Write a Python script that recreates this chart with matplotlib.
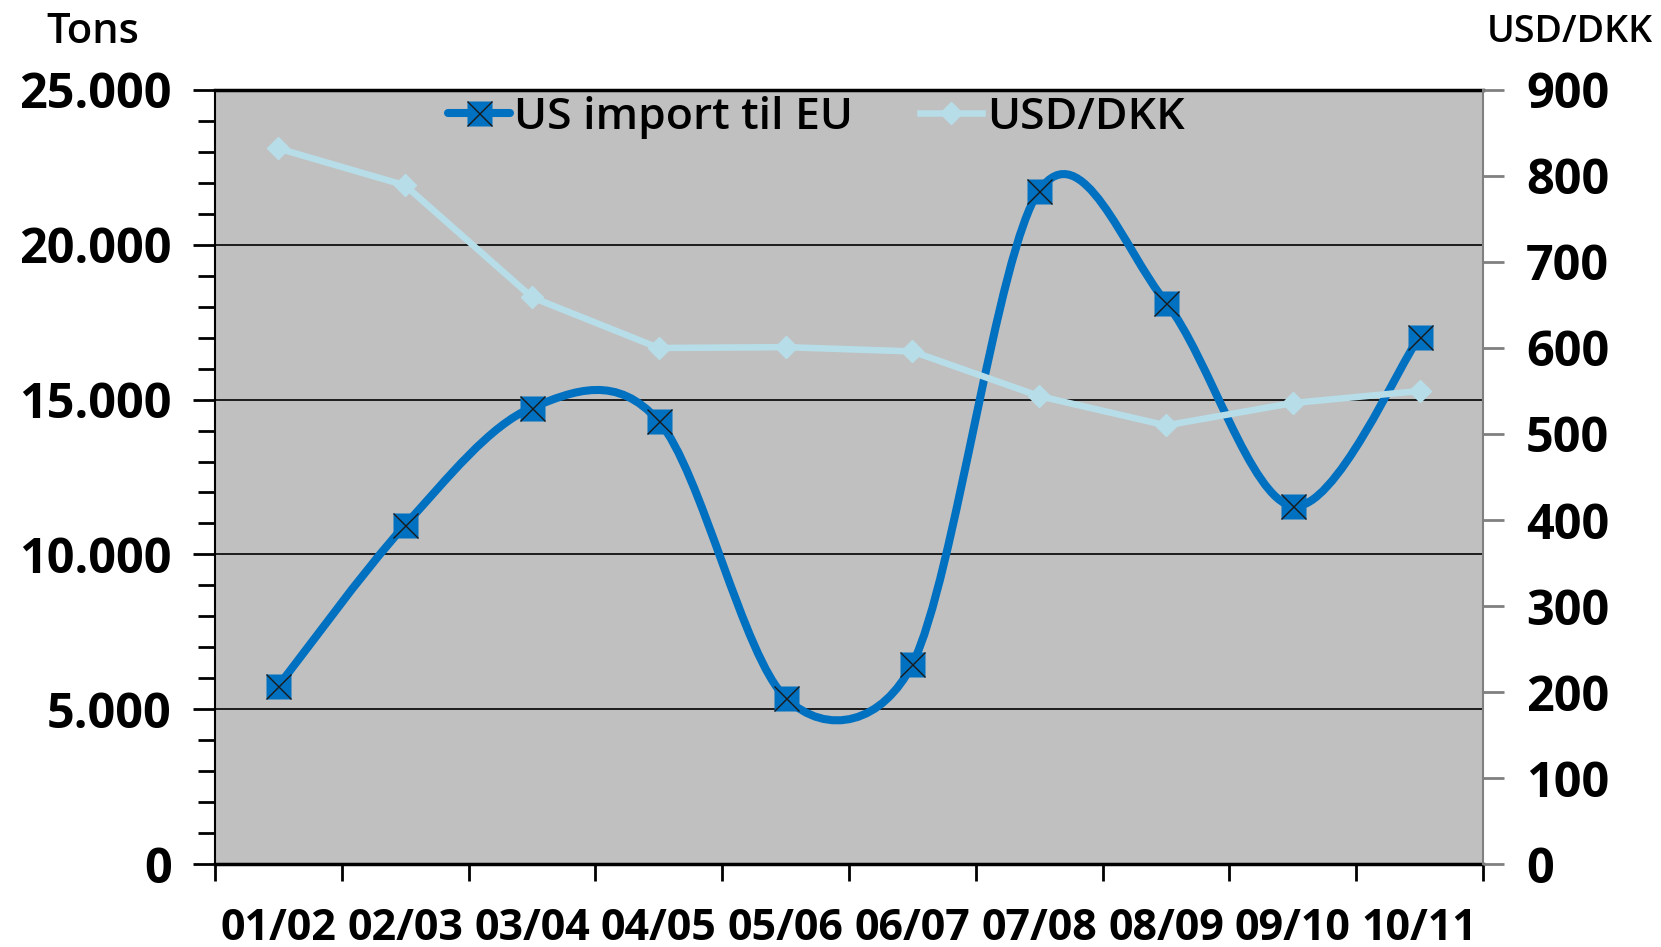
import matplotlib
matplotlib.use("Agg")
import numpy as np
import matplotlib.pyplot as plt
from matplotlib.path import Path
from matplotlib.patches import PathPatch
from matplotlib.lines import Line2D
from matplotlib.legend_handler import HandlerTuple
from matplotlib.ticker import FuncFormatter, MultipleLocator

plt.rcParams['font.family'] = ['Open Sans', 'DejaVu Sans']

seasons = ['01/02', '02/03', '03/04', '04/05', '05/06',
           '06/07', '07/08', '08/09', '09/10', '10/11']
us_import = [5750, 10950, 14740, 14300, 5370, 6460, 21750, 18130, 11560, 17030]
usd_dkk = [832, 789, 659, 600, 601, 596, 544, 510, 536, 550]

blue = '#0070C0'
cyan = '#B7DEE8'


def smooth_path(ax, xs, ys):
    # Excel style smoothed line: bezier with 1/6 tangents,
    # control arm limited to half the segment length (in screen space)
    pts = np.column_stack([xs, ys]).astype(float)
    scr = ax.transData.transform(pts)
    n = len(pts)
    verts = [tuple(pts[0])]
    codes = [Path.MOVETO]
    for i in range(n - 1):
        i0, i3 = max(i - 1, 0), min(i + 2, n - 1)
        seg = np.linalg.norm(scr[i + 1] - scr[i])
        arms = []
        for a, b in [(i0, i + 1), (i, i3)]:
            span = np.linalg.norm(scr[b] - scr[a])
            f = 1 / 6
            if span > 0 and span * f > seg / 2:
                f = seg / 2 / span
            arms.append((pts[b] - pts[a]) * f)
        verts += [tuple(pts[i] + arms[0]), tuple(pts[i + 1] - arms[1]), tuple(pts[i + 1])]
        codes += [Path.CURVE4] * 3
    return Path(verts, codes)


fig = plt.figure(figsize=(16.61, 9.47), dpi=100)
ax = fig.add_axes([0.1294, 0.0876, 0.7635, 0.8174])
ax.set_facecolor('#C0C0C0')

x = list(range(len(seasons)))

ax.set_xlim(-0.5, len(seasons) - 0.5)
ax.set_ylim(0, 25000)

ax.add_patch(PathPatch(smooth_path(ax, x, us_import), facecolor='none',
                       edgecolor=blue, lw=5.8, capstyle='round', zorder=3))
ax.plot(x, us_import, ls='none', marker='s', ms=18, mfc=blue, mec='none', zorder=4)
ax.plot(x, us_import, ls='none', marker='x', ms=18, mec='#1a1a1a', mew=1, zorder=5)

ax.yaxis.set_major_locator(MultipleLocator(5000))
ax.yaxis.set_minor_locator(MultipleLocator(1000))
ax.yaxis.set_major_formatter(FuncFormatter(lambda v, p: f'{int(v):,}'.replace(',', '.')))
ax.grid(axis='y', which='major', color='black', lw=1.2, zorder=1)
ax.set_axisbelow(True)

ax.set_xticks([i - 0.5 for i in range(len(seasons) + 1)])
ax.set_xticklabels([])
ax.set_xticks(x, minor=True)
ax.set_xticklabels(seasons, minor=True, fontsize=31, fontweight='bold')
ax.tick_params(axis='x', which='major', direction='out', length=12, width=2, color='black')
ax.tick_params(axis='x', which='minor', length=0, pad=31)
ax.tick_params(axis='y', which='major', direction='out', length=16, width=2, pad=15,
               labelsize=35)
ax.tick_params(axis='y', which='minor', direction='out', length=12, width=2)
for lbl in ax.get_yticklabels():
    lbl.set_fontweight('bold')

ax.spines['left'].set_linewidth(1.5)
ax.spines['bottom'].set_linewidth(2.5)
ax.spines['top'].set_linewidth(2.5)
ax.spines['right'].set_visible(False)

ax2 = ax.twinx()
ax2.plot(x, usd_dkk, color=cyan, lw=4.7, marker='D', ms=11, mfc=cyan, mec=cyan,
         zorder=3)
ax2.set_ylim(0, 900)
ax2.yaxis.set_major_locator(MultipleLocator(100))
ax2.tick_params(axis='y', direction='out', length=15, width=2, color='#808080', pad=16,
                labelsize=35)
for lbl in ax2.get_yticklabels():
    lbl.set_fontweight('bold')
for side in ['left', 'top', 'bottom']:
    ax2.spines[side].set_visible(False)
ax2.spines['right'].set_color('#808080')
ax2.spines['right'].set_linewidth(1.5)

fig.text(0.056, 0.966, 'Tons', fontsize=30, fontweight='semibold', ha='center', va='center')
fig.text(0.945, 0.966, 'USD/DKK', fontsize=27, fontweight='semibold', ha='center', va='center')

h_us = (Line2D([], [], color=blue, lw=5.8, marker='s', ms=18, mfc=blue, mec='none',
               solid_capstyle='round'),
        Line2D([], [], ls='none', marker='x', ms=18, mec='#1a1a1a', mew=1))
h_usd = Line2D([], [], color=cyan, lw=4.7, marker='D', ms=11, mfc=cyan, mec=cyan)
ax2.legend([h_us, h_usd], ['US import til EU', 'USD/DKK'],
           handler_map={tuple: HandlerTuple(ndivide=1)},
           loc='center', bbox_to_anchor=(0.474, 0.965), ncol=2, frameon=False,
           handlelength=1.4, handletextpad=0.1, columnspacing=1.5,
           prop={'size': 32, 'weight': 'semibold'})

fig.savefig('out.png', dpi=100)
